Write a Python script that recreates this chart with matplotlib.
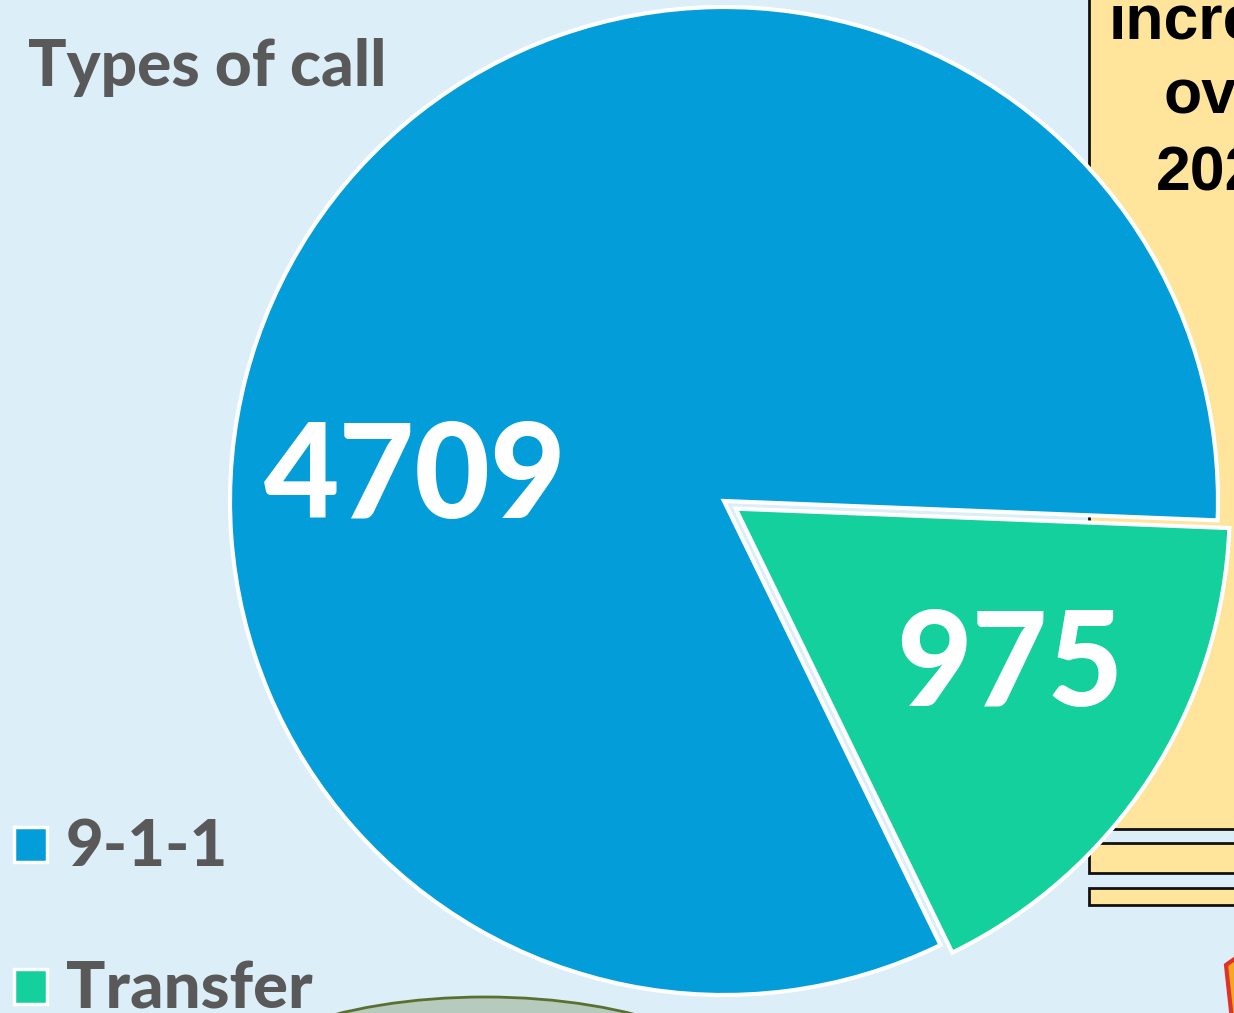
import matplotlib.pyplot as plt
from matplotlib.patches import Rectangle, Ellipse, Polygon

# data
labels = ['9-1-1', 'Transfer']
counts = [4709, 975]
colors = ['#039DD9', '#13D09C']

bg = '#DCEEF7'
W, H = 1234, 1013

fig = plt.figure(figsize=(W / 100, H / 100), dpi=100, facecolor=bg)
ax = fig.add_axes([0, 0, 1, 1])
ax.set_facecolor(bg)

# yellow panel peeking in on the right (behind the pie)
ax.add_patch(Rectangle((1089, H - 829), 200, 900, facecolor='#FFE49B',
                       edgecolor='#111111', lw=2, zorder=1))
ax.add_patch(Rectangle((1089, H - 873), 200, 30, facecolor='#FFE49B',
                       edgecolor='#111111', lw=2, zorder=1))
ax.add_patch(Rectangle((1089, H - 905), 200, 17, facecolor='#FFE49B',
                       edgecolor='#111111', lw=2, zorder=1))
for txt, x, y in [('increase', 1109, 38), ('over', 1164, 113), ('2020', 1156, 190)]:
    ax.text(x, H - y, txt, fontsize=45, fontweight='bold', color='black',
            family='Liberation Sans', ha='left', va='baseline', zorder=2)

# shapes at the bottom
ax.add_patch(Ellipse((485, H - 1105), 550, 216, facecolor='#B6CBBE',
                     edgecolor='#5B7030', lw=2, zorder=1))
ax.add_patch(Polygon([(1226, H - 965), (1240, H - 955), (1245, H - 1020), (1232, H - 1020)],
                     closed=True, facecolor='#F5A623', edgecolor='#E0312B', lw=3, zorder=1))

# pie
wedges, _ = ax.pie(counts, colors=colors, startangle=-2.25, counterclock=True,
                   explode=[0, 14], center=(724, H - 501), radius=494,
                   wedgeprops=dict(edgecolor='white', linewidth=3, zorder=3),
                   frame=True)
ax.set_xlim(0, W)
ax.set_ylim(0, H)
ax.set_aspect('equal')
ax.axis('off')

ax.text(415, H - 480, str(counts[0]), fontsize=94, fontweight='black', family='Lato',
        color='white', ha='center', va='center', zorder=4)
ax.text(1010, H - 668, str(counts[1]), fontsize=94, fontweight='black', family='Lato',
        color='white', ha='center', va='center', zorder=4)

# title
ax.text(28, H - 86, 'Types of call', fontsize=46, fontweight='black', family='Lato',
        color='#595959', ha='left', va='baseline', zorder=4)

# legend
for i, (lab, col) in enumerate(zip(labels, colors)):
    y = 845 + i * 142
    ax.add_patch(Rectangle((14, H - y - 17), 33, 35, facecolor=col,
                           edgecolor='white', lw=2.5, zorder=4))
    ax.text(66, H - y - 21, lab, fontsize=47, fontweight='black', family='Lato',
            color='#595959', ha='left', va='baseline', zorder=4)

fig.savefig('out.png', dpi=100, facecolor=bg)
